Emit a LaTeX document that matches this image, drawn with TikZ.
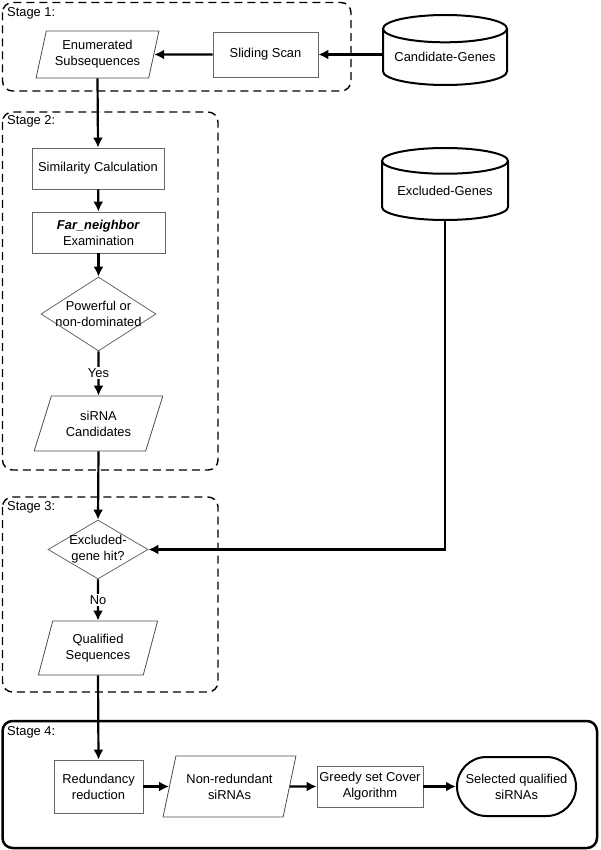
\documentclass[tikz,border=0pt]{standalone}
\usepackage{fontspec}
\setmainfont{Liberation Sans}
\usetikzlibrary{shapes.geometric,shapes.misc,arrows.meta}

\tikzset{
  box/.style={draw=black!60,line width=0.8pt,inner sep=0pt,align=center},
  datain/.style={trapezium,trapezium stretches=true,draw=black!70,line width=0.8pt,inner sep=0pt,align=center},
  test/.style={diamond,draw=black!60,line width=0.8pt,inner sep=-6pt,align=center},
  store/.style={cylinder,shape border rotate=90,aspect=0.27,draw,line width=2pt,inner sep=0pt,anchor=shape center},
  flow/.style={line width=2.2pt,-{Latex[length=10pt,width=10pt]}},
  lab/.style={fill=white,inner sep=1.5pt},
  stagebox/.style={line width=1.4pt,dash pattern=on 8pt off 5pt,rounded corners=10pt},
}

\begin{document}
\begin{tikzpicture}[x=1pt,y=-1pt,font=\fontsize{12.9}{16}\selectfont]
\useasboundingbox (0,0) rectangle (600,850);

\draw[stagebox] (2.5,2.5) rectangle (351,91);
\draw[stagebox] (2.5,112) rectangle (218,470);
\draw[stagebox] (2.5,497) rectangle (218,692);
\draw[line width=2.5pt,rounded corners=10pt] (2.5,721) rectangle (597,848);
\foreach \n/\y in {1/13,2/121,3/507,4/732}{
\node[anchor=west,inner sep=0pt] (stage\n) at (7,\y) {Stage \n:};
}

\node[store,minimum width=124pt,minimum height=70pt] (cand) at (445,50) {Candidate-Genes};
\node[box,minimum width=105pt,minimum height=45pt] (scan) at (265.5,54.5) {Sliding Scan};
\node[datain,minimum width=123pt,minimum height=47pt,trapezium left angle=73,trapezium right angle=107] (enum) at (97.5,54.5) {Enumerated\\Subsequences};

\node[store,minimum width=126pt,minimum height=72pt] (exgen) at (445,184) {Excluded-Genes};

\node[box,minimum width=132pt,minimum height=41pt] (simc) at (98,168.5) {Similarity Calculation};
\node[box,minimum width=133pt,minimum height=41pt] (farn) at (98.5,232.5) {\textbf{\textit{Far\_neighbor}}\\Examination};
\node[test,aspect=1.55,minimum width=115pt,minimum height=74pt] (pow) at (98.5,314) {Powerful or\\non-dominated};
\node[datain,minimum width=129pt,minimum height=55pt,trapezium left angle=65,trapezium right angle=115] (cands) at (98.5,423.5) {siRNA\\Candidates};

\node[test,aspect=1.7,minimum width=100pt,minimum height=59pt] (hit) at (98,549.5) {Excluded-\\gene hit?};
\node[datain,minimum width=120pt,minimum height=54pt,trapezium left angle=70,trapezium right angle=110] (qual) at (98,648) {Qualified\\Sequences};

\node[box,minimum width=89pt,minimum height=53pt] (red) at (98.5,786.5) {Redundancy\\reduction};
\node[datain,minimum width=133pt,minimum height=61pt,trapezium left angle=68,trapezium right angle=112] (nonred) at (229.5,786.5) {Non-redundant\\siRNAs};
\node[box,minimum width=106pt,minimum height=41pt] (greedy) at (370,786.5) {Greedy set Cover\\Algorithm};
\node[rounded rectangle,draw,line width=2pt,inner sep=0pt,align=center,minimum width=119pt,minimum height=59pt] (sel) at (516.5,786.5) {Selected qualified\\siRNAs};

\draw[flow] (cand.west |- scan.east) -- (scan.east);
\draw[flow] (scan.west) -- (enum.east);
\draw[flow] (enum.south) -- (simc.north);
\draw[flow] (simc) -- (farn);
\draw[flow] (farn) -- (pow);
\draw[flow] (pow.south) -- node[lab] (yes) {Yes} (cands.north);
\draw[flow] (cands.south) -- (hit.north);
\draw[flow] (exgen.south) |- (hit.east);
\draw[flow] (hit.south) -- node[lab] (no) {No} (qual.north);
\draw[flow] (qual.south) -- (red.north);
\draw[flow] (red) -- (nonred);
\draw[flow] (nonred) -- (greedy);
\draw[flow] (greedy) -- (sel);
\end{tikzpicture}
\end{document}
